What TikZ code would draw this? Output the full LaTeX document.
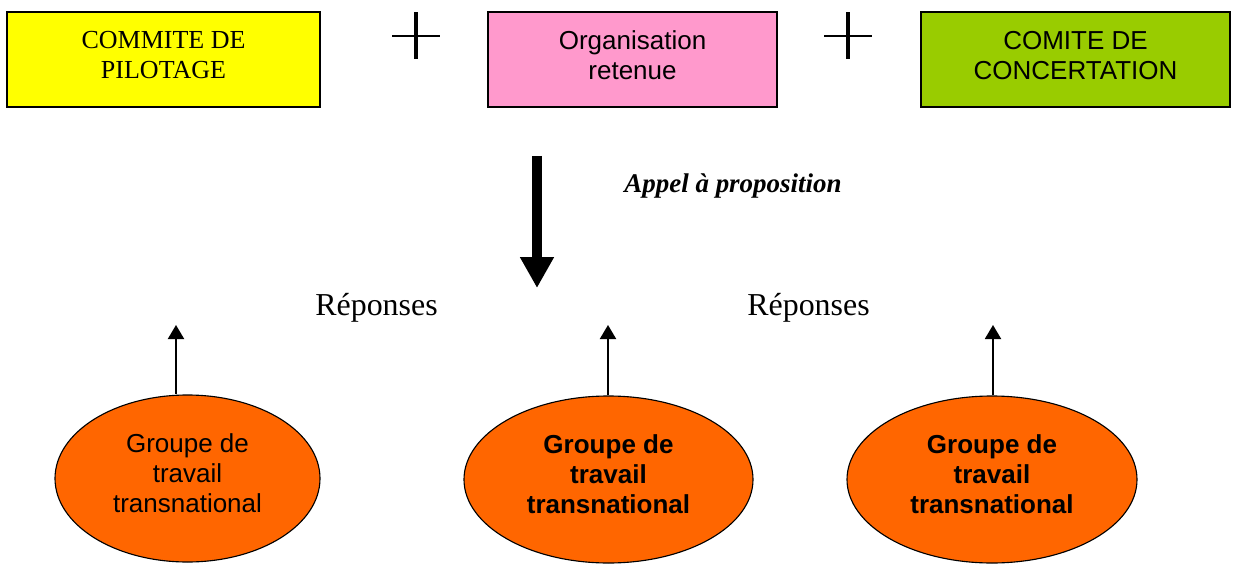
\documentclass[tikz,border=0pt]{standalone}
\usepackage{fontspec}
\setmainfont{Liberation Serif}
\setsansfont{Liberation Sans}
\usepackage{xcolor}
\usepackage{tikz}
\usetikzlibrary{shapes.geometric, arrows.meta, positioning}
\definecolor{pilotagecolor}{RGB}{255, 255, 0}
\definecolor{retenuecolor}{RGB}{255, 153, 204}
\definecolor{concertcolor}{RGB}{153, 204, 0}
\definecolor{groupecolor}{RGB}{255, 102, 0}

\tikzset{
    comitebox/.style={draw, line width=1pt, minimum width=#1, minimum height=2.375cm, inner sep=0pt, text depth=0.22cm, align=center},
    groupenode/.style={draw, ellipse, fill=groupecolor, line width=0.8pt, minimum width=#1, minimum height=4.175cm, inner sep=0pt, text depth=0.27cm, align=center, font=\sffamily\fontsize{18.5}{21.3}\selectfont},
    groupebold/.style={groupenode=#1, font=\sffamily\bfseries\fontsize{18.5}{21.3}\selectfont},
    reponsearrow/.style={-{Triangle[width=4mm, length=3.5mm]}, line width=1.4pt},
    reponselabel/.style={anchor=base, font=\fontsize{22.7}{26}\selectfont}
}

\begin{document}
\begin{tikzpicture}
        \useasboundingbox (0, 0) rectangle (30.825, 14.075);

        % Committees on the top row
        \node[comitebox=7.825cm, fill=pilotagecolor, font=\fontsize{18.5}{21.3}\selectfont] (pilotage) at (4.0875, 12.5875) {COMMITE DE\\PILOTAGE};
        \node[comitebox=7.225cm, fill=retenuecolor, font=\sffamily\fontsize{18.5}{21.3}\selectfont] (retenue) at (15.8125, 12.5875) {Organisation\\retenue};
        \node[comitebox=7.725cm, fill=concertcolor, font=\sffamily\fontsize{18.5}{21.3}\selectfont] (concertation) at (26.8875, 12.5875) {COMITE DE\\CONCERTATION};

        % Plus signs
        \draw[line width=1pt] (9.8, 13.175) -- (11.0, 13.175);
        \draw[line width=2.4pt] (10.4, 12.6) -- (10.4, 13.775);
        \draw[line width=1pt] (20.6, 13.175) -- (21.8, 13.175);
        \draw[line width=2.8pt] (21.2, 12.6) -- (21.2, 13.775);

        % Call for proposals
        \coordinate (appeltop) at (13.425, 10.175);
        \coordinate (appelbottom) at (13.425, 6.875);
        \draw[-{Triangle[width=8mm, length=7.75mm]}, line width=2.5mm] (appeltop) -- (appelbottom);
        \node[anchor=base, font=\bfseries\itshape\fontsize{19.2}{22}\selectfont] (appel) at (18.325, 9.275) {Appel à proposition};

        % Answers
        \node[reponselabel] (reponses1) at (9.4125, 6.2) {Réponses};
        \node[reponselabel] (reponses2) at (20.2125, 6.2) {Réponses};

        % Working groups
        \node[groupenode=6.625cm] (groupe1) at (4.6875, 2.1125) {Groupe de\\travail\\transnational};
        \node[groupebold=7.225cm] (groupe2) at (15.2125, 2.0875) {Groupe de\\travail\\transnational};
        \node[groupebold=7.25cm] (groupe3) at (24.8, 2.0875) {Groupe de\\travail\\transnational};

        \coordinate (retour1) at (4.4, 5.95);
        \coordinate (retour2) at (15.2, 5.95);
        \coordinate (retour3) at (24.825, 5.95);
        \draw[reponsearrow] (retour1 |- groupe1.north) -- (retour1);
        \draw[reponsearrow] (retour2 |- groupe2.north) -- (retour2);
        \draw[reponsearrow] (retour3 |- groupe3.north) -- (retour3);
    \end{tikzpicture}
\end{document}
